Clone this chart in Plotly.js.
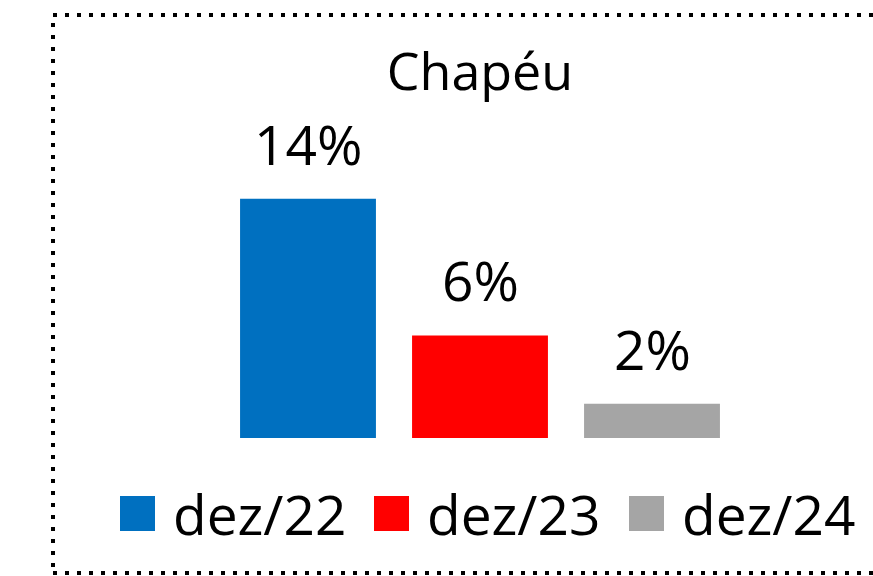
<!DOCTYPE html>
<html>
<head>
<meta charset="utf-8">
<script src="https://cdn.plot.ly/plotly-3.0.1.min.js"></script>
<style>html,body{margin:0;padding:0;background:#fff;}#chart{width:873px;height:576px;}</style>
</head>
<body>
<div id="chart"></div>
<script>
const categories = ['dez/22', 'dez/23', 'dez/24'];
const values = [14, 6, 2];
const labels = ['14%', '6%', '2%'];
const colors = ['#0070C0', '#FF0000', '#A5A5A5'];
const chartTitle = 'Chapéu';

const W = 873, H = 576;
const M = {l: 222, r: 135, t: 100, b: 138};
const pw = W - M.l - M.r, ph = H - M.t - M.b;
const px2x = p => (p - M.l) / pw;
const py2y = p => (H - M.b - p) / ph;
const FONT = 'Open Sans, Lato, sans-serif';

const traces = categories.map((c, i) => ({
  type: 'bar', x: [c], y: [values[i]], name: c,
  marker: {color: colors[i], line: {width: 0}},
  showlegend: false, hoverinfo: 'skip'
}));

const annotations = categories.map((c, i) => ({
  x: c, y: values[i], xref: 'x', yref: 'y', text: labels[i],
  showarrow: false, xanchor: 'center', yanchor: 'bottom', yshift: 16,
  font: {family: FONT, size: 55, color: '#000'}
}));

const shapes = [{
  type: 'rect', xref: 'paper', yref: 'paper',
  x0: px2x(53), x1: px2x(910), y0: py2y(573), y1: py2y(15),
  line: {color: '#000', width: 4, dash: '4px,8px'}, fillcolor: 'rgba(0,0,0,0)'
}];

// manual legend (large squares)
const legX = [120, 374, 629];
const sq = 35, legY = 496;
categories.forEach((c, i) => {
  shapes.push({type: 'rect', xref: 'paper', yref: 'paper',
    x0: px2x(legX[i]), x1: px2x(legX[i] + sq), y0: py2y(legY + sq), y1: py2y(legY),
    fillcolor: colors[i], line: {width: 0}});
  annotations.push({xref: 'paper', yref: 'paper', x: px2x(legX[i] + sq + 16), y: py2y(legY + sq / 2),
    xanchor: 'left', yanchor: 'middle', showarrow: false, text: c,
    font: {family: FONT, size: 55, color: '#000'}});
});

const layout = {
  width: W, height: H, margin: M,
  paper_bgcolor: '#fff', plot_bgcolor: '#fff',
  title: {text: chartTitle, font: {family: FONT, size: 52, color: '#000'},
    x: 0.5, xref: 'paper', xanchor: 'center', y: 1 - 72 / H, yref: 'container', yanchor: 'middle'},
  barmode: 'overlay', bargap: 0.21,
  xaxis: {type: 'category', categoryarray: categories, range: [-0.5, 2.5],
    showticklabels: false, showgrid: false, zeroline: false, showline: false, ticks: ''},
  yaxis: {range: [0, 19.77], showticklabels: false, showgrid: false, zeroline: false, showline: false, ticks: ''},
  showlegend: false, shapes: shapes, annotations: annotations
};

Plotly.newPlot('chart', traces, layout, {displayModeBar: false, staticPlot: true});
</script>
</body>
</html>
